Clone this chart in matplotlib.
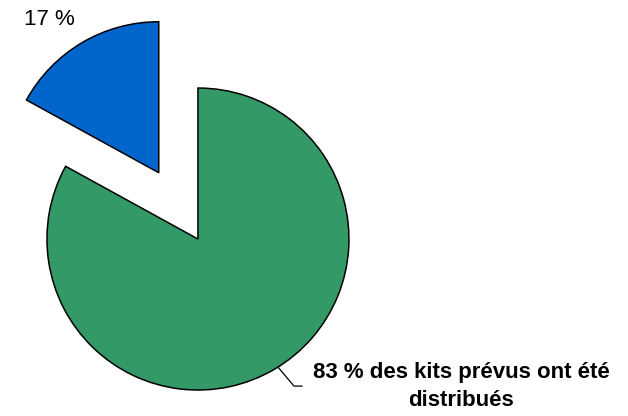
import matplotlib.pyplot as plt
import numpy as np

# Données
parts = [83, 17]
couleurs = ['#339966', '#0066CC']
eclate = [0, 0.51]
label_distribue = "83 % des kits prévus ont été\ndistribués"
label_reste = "17 %"

plt.rcParams['font.family'] = ['Liberation Sans', 'DejaVu Sans']

fig = plt.figure(figsize=(6.28, 4.16), dpi=100)
ax = fig.add_axes([0, 0, 1, 1])

wedges, _ = ax.pie(parts, colors=couleurs, explode=eclate, startangle=90,
                   counterclock=False, radius=1.0,
                   wedgeprops=dict(edgecolor='black', linewidth=1.1))

# Étiquette de la part verte avec trait de rappel
ang = np.deg2rad(-58)
x0, y0 = np.cos(ang), np.sin(ang)
ax.plot([x0, 0.636, 0.689], [y0, -0.974, -0.974], color='black', lw=0.9)
ax.text(1.742, -0.974, label_distribue, ha='center', va='center',
        fontsize=16, fontweight='bold', linespacing=1.45)

# Étiquette de la part bleue
ax.text(-1.15, 1.457, label_reste, ha='left', va='center', fontsize=16)

ax.set_xlim(-1.311, 2.848)
ax.set_ylim(-1.172, 1.583)
ax.set_aspect('auto')
ax.axis('off')

fig.savefig("out.png", dpi=100)
